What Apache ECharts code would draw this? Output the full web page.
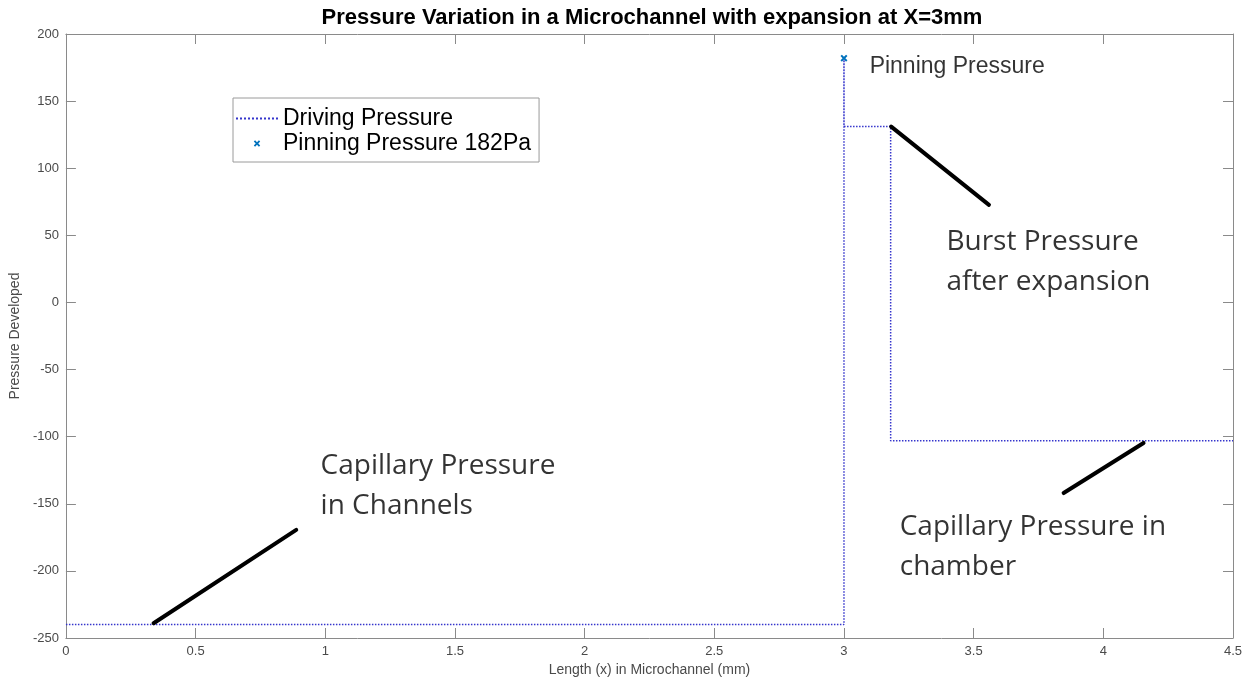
<!DOCTYPE html>
<html>
<head>
<meta charset="utf-8">
<title>Pressure Variation in a Microchannel</title>
<script src="https://cdn.jsdelivr.net/npm/echarts@6/dist/echarts.min.js"></script>
<style>
  html, body { margin: 0; padding: 0; background: #fff; }
  #chart { width: 1250px; height: 683px; }
</style>
</head>
<body>
<div id="chart"></div>
<script>
// Driving pressure along the channel (x in mm, pressure in Pa)
const drivingX = [0, 3, 3, 3, 3.18, 3.18, 4.5];
const drivingY = [-240, -240, 182, 131, 131, -103, -103];

// Pinning pressure at the expansion edge
const pinningX = [3];
const pinningY = [182];

// Axis ranges and tick spacing
const xTicks = { min: 0, max: 4.5, interval: 0.5 };
const yTicks = { min: -250, max: 200, interval: 50 };

// Text notes and their pointer lines, in data units
const noteTexts = [
  'Capillary Pressure\nin Channels',
  'Burst Pressure\nafter expansion',
  'Capillary Pressure in\nchamber'
];
const noteAnchors = [[0.98, -137], [3.393, 30], [3.213, -182]];
const pointerLines = [
  [[0.338, -239], [0.888, -169.5]],
  [[3.182, 131], [3.559, 72.7]],
  [[4.155, -104.7], [3.847, -142]]
];
const pinLabelText = 'Pinning Pressure';
const pinLabelAnchor = [3.097, 176];

const axisGrey = '#8a8a8a';
const labelGrey = '#4a4a4a';
const sans = '"Liberation Sans", Arial, sans-serif';
const noteFont = '"Open Sans", "Noto Sans", sans-serif';

// 'x' marker drawn as a filled cross outline
const crossPath = 'path://M0,2L2,0L5,3L8,0L10,2L7,5L10,8L8,10L5,7L2,10L0,8L3,5Z';

const zip = (a, b) => a.map((v, i) => [v, b[i]]);

const chart = echarts.init(document.getElementById('chart'), null, { renderer: 'canvas' });

const baseX = {
  type: 'value', min: xTicks.min, max: xTicks.max, interval: xTicks.interval,
  axisLine: { show: true, onZero: false, lineStyle: { color: axisGrey, width: 1 } },
  axisTick: { show: true, inside: true, length: 10, lineStyle: { color: axisGrey } },
  splitLine: { show: false }
};
const baseY = {
  type: 'value', min: yTicks.min, max: yTicks.max, interval: yTicks.interval,
  axisLine: { show: true, onZero: false, lineStyle: { color: axisGrey, width: 1 } },
  axisTick: { show: true, inside: true, length: 10, lineStyle: { color: axisGrey } },
  splitLine: { show: false }
};

chart.setOption({
  animation: false,
  backgroundColor: '#fff',
  title: {
    text: 'Pressure Variation in a Microchannel with expansion at X=3mm',
    left: 647, top: 2, textAlign: 'center',
    textStyle: { fontFamily: sans, fontWeight: 'bold', fontSize: 22, color: '#000' }
  },
  grid: { left: 62, right: 17, top: 34, bottom: 45, containLabel: false },
  legend: {
    left: 233, top: 98, orient: 'vertical',
    padding: [8, 8, 6, 2],
    itemGap: 0, itemWidth: 42, itemHeight: 8,
    borderColor: '#9a9a9a', borderWidth: 1, backgroundColor: '#fff',
    textStyle: { fontFamily: sans, fontSize: 23, color: '#000', lineHeight: 25 },
    data: [
      { name: 'Driving Pressure', itemStyle: { opacity: 0 } },
      { name: 'Pinning Pressure 182Pa', lineStyle: { opacity: 0 } }
    ]
  },
  xAxis: [
    Object.assign({}, baseX, {
      position: 'bottom',
      name: 'Length (x) in Microchannel (mm)', nameLocation: 'middle', nameGap: 22,
      nameTextStyle: { fontFamily: sans, fontSize: 14, color: labelGrey },
      axisLabel: { margin: 7, fontFamily: sans, fontSize: 13, color: labelGrey }
    }),
    Object.assign({}, baseX, { position: 'top', axisLabel: { show: false } })
  ],
  yAxis: [
    Object.assign({}, baseY, {
      position: 'left',
      name: 'Pressure Developed', nameLocation: 'middle', nameGap: 34,
      nameTextStyle: { fontFamily: sans, fontSize: 14, color: labelGrey },
      axisLabel: { margin: 7, fontFamily: sans, fontSize: 13, color: labelGrey }
    }),
    Object.assign({}, baseY, { position: 'right', axisLabel: { show: false } })
  ],
  series: [
    {
      name: 'Driving Pressure',
      type: 'line',
      data: zip(drivingX, drivingY),
      symbol: 'none',
      lineStyle: { color: '#3535cc', width: 1.5, type: 'dotted' },
      itemStyle: { color: '#3535cc' },
      silent: true, z: 3
    },
    {
      name: 'Pinning Pressure 182Pa',
      type: 'line',
      data: zip(pinningX, pinningY),
      symbol: crossPath, symbolSize: 7, showSymbol: true,
      lineStyle: { opacity: 0 },
      itemStyle: { color: '#0072BD' },
      silent: true, z: 4
    },
    {
      name: 'pointers',
      type: 'lines',
      coordinateSystem: 'cartesian2d',
      data: pointerLines.map(c => ({ coords: c })),
      lineStyle: { color: '#000', width: 4, opacity: 1, cap: 'round' },
      silent: true, z: 5
    },
    {
      name: 'notes',
      type: 'scatter',
      data: noteAnchors.map((p, i) => ({ value: p, label: { formatter: noteTexts[i] } })),
      symbolSize: 1,
      itemStyle: { color: 'rgba(0,0,0,0)' },
      label: {
        show: true, position: 'right', distance: 0,
        align: 'left', verticalAlign: 'middle',
        fontFamily: noteFont, fontSize: 28, lineHeight: 40, color: '#000'
      },
      silent: true, z: 6
    },
    {
      name: 'pinLabel',
      type: 'scatter',
      data: [{ value: pinLabelAnchor, label: { formatter: pinLabelText } }],
      symbolSize: 1,
      itemStyle: { color: 'rgba(0,0,0,0)' },
      label: {
        show: true, position: 'right', distance: 0,
        align: 'left', verticalAlign: 'middle',
        fontFamily: sans, fontSize: 23, color: '#000'
      },
      silent: true, z: 6
    }
  ]
});
</script>
</body>
</html>
